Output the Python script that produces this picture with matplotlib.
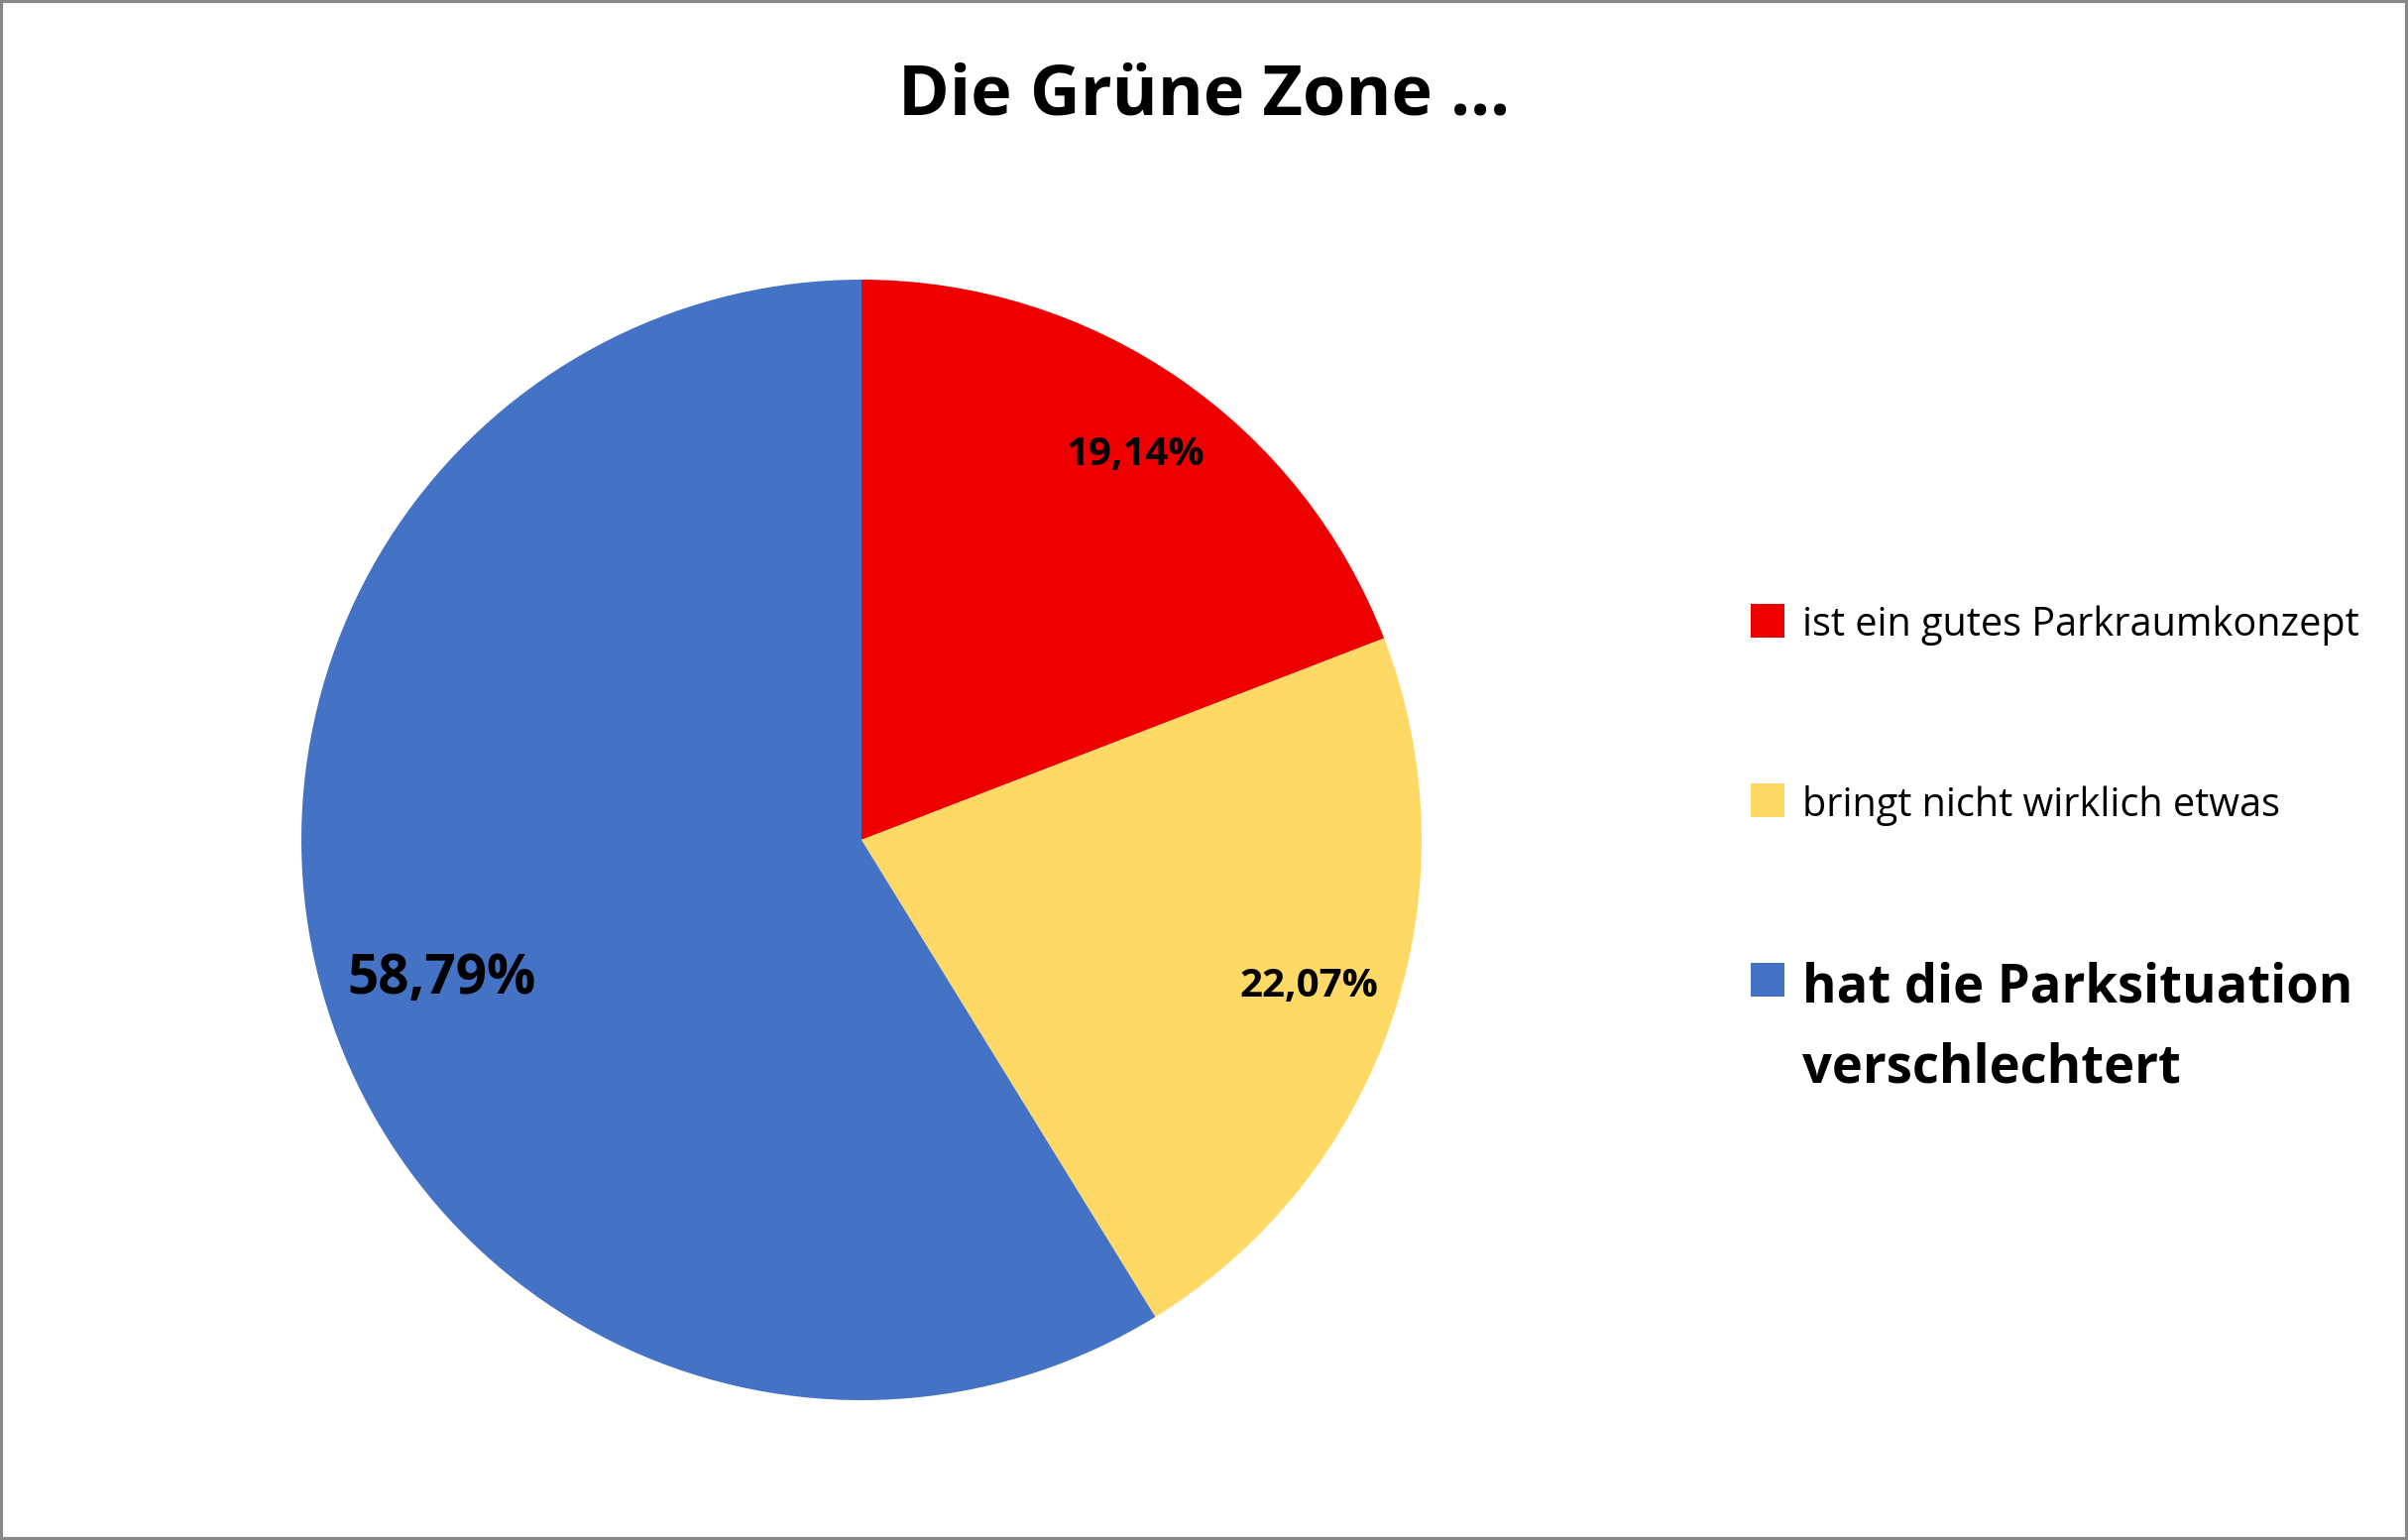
import matplotlib
matplotlib.use("Agg")
import matplotlib.pyplot as plt
from matplotlib.patches import Rectangle
import numpy as np

title = "Die Grüne Zone ..."
categories = ["ist ein gutes Parkraumkonzept",
              "bringt nicht wirklich etwas",
              "hat die Parksituation\nverschlechtert"]
values = [19.14, 22.07, 58.79]
colors = ["#EE0000", "#FFD966", "#4472C4"]

FONT = "Open Sans"
W, H = 2429, 1553
fig = plt.figure(figsize=(W / 100, H / 100), dpi=100)
fig.patch.set_facecolor("white")

# pie axes: center (869, 847) px, radius 565 px
cx, cy, r = 869, 847, 565
ax = fig.add_axes([(cx - r) / W, (H - cy - r) / H, 2 * r / W, 2 * r / H])
wedges, _ = ax.pie(values, colors=colors, startangle=90, counterclock=False,
                   radius=1.0, wedgeprops=dict(linewidth=0))
ax.set_xlim(-1, 1)
ax.set_ylim(-1, 1)
ax.set_aspect("equal")
ax.axis("off")

label_dist = [0.845, 0.84, 0.79]
label_angle_shift = [-1.0, 0.5, 2.5]
label_size = [29, 29, 39.5]
for w, v, d, da, s in zip(wedges, values, label_dist, label_angle_shift, label_size):
    ang = np.deg2rad((w.theta1 + w.theta2) / 2 + da)
    ax.text(d * np.cos(ang), d * np.sin(ang), f"{v:.2f}%".replace(".", ","),
            ha="center", va="center", fontsize=s, fontweight="bold",
            family=FONT, color="black")

fig.text(0.5, 1 - 116 / H, title, ha="center", va="baseline",
         fontsize=50.5, fontweight="bold", family=FONT)

# legend
sq = 34
box_x = 1766
text_x = 1818
centers = [626, 807, 988]
baselines = [641, 823, 1010]
leg_size = [28.5, 28.5, 37.8]
leg_weight = ["normal", "normal", "bold"]
line_step = 81
for lab, col, c, b, s, wt in zip(categories, colors, centers, baselines, leg_size, leg_weight):
    fig.patches.append(Rectangle((box_x / W, 1 - (c + sq / 2) / H), sq / W, sq / H,
                                 transform=fig.transFigure, facecolor=col,
                                 edgecolor="none"))
    for k, line in enumerate(lab.split("\n")):
        fig.text(text_x / W, 1 - (b + k * line_step) / H, line, ha="left",
                 va="baseline", fontsize=s, fontweight=wt, family=FONT)

fig.patches.append(Rectangle((0.0005, 0.0008), 0.999, 0.9985, transform=fig.transFigure,
                             facecolor="none", edgecolor="#888888", linewidth=3))

fig.savefig("out.png", dpi=100)
